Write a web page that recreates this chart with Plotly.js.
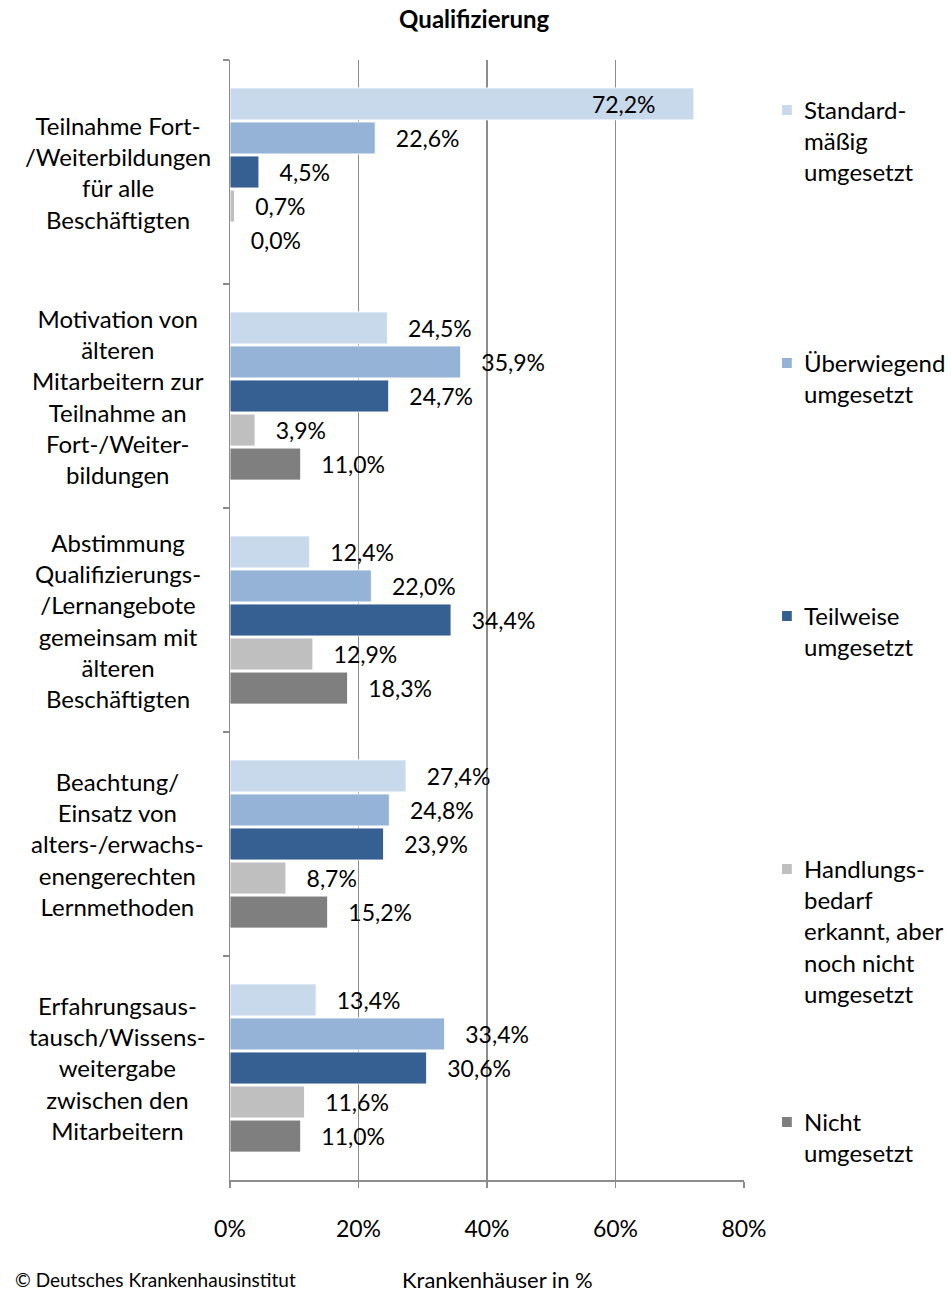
<!DOCTYPE html>
<html>
<head>
<meta charset="utf-8">
<script src="https://cdn.plot.ly/plotly-3.0.1.min.js"></script>
<style>html,body{margin:0;padding:0;background:#fff;}#chart{width:951px;height:1293px;}</style>
</head>
<body>
<div id="chart"></div>
<script>
// ---- data ----
const categories = [
  "Teilnahme Fort-/Weiterbildungen für alle Beschäftigten",
  "Motivation von älteren Mitarbeitern zur Teilnahme an Fort-/Weiterbildungen",
  "Abstimmung Qualifizierungs-/Lernangebote gemeinsam mit älteren Beschäftigten",
  "Beachtung/Einsatz von alters-/erwachsenengerechten Lernmethoden",
  "Erfahrungsaustausch/Wissensweitergabe zwischen den Mitarbeitern"
];
const categoryLabels = [
  "Teilnahme Fort-<br>/Weiterbildungen<br>für alle<br>Beschäftigten",
  "Motivation von<br>älteren<br>Mitarbeitern zur<br>Teilnahme an<br>Fort-/Weiter-<br>bildungen",
  "Abstimmung<br>Qualifizierungs-<br>/Lernangebote<br>gemeinsam mit<br>älteren<br>Beschäftigten",
  "Beachtung/<br>Einsatz von<br>alters-/erwachs-<br>enengerechten<br>Lernmethoden",
  "Erfahrungsaus-<br>tausch/Wissens-<br>weitergabe<br>zwischen den<br>Mitarbeitern"
];
const seriesNames = [
  "Standard-<br>mäßig<br>umgesetzt",
  "Überwiegend<br>umgesetzt",
  "Teilweise<br>umgesetzt",
  "Handlungs-<br>bedarf<br>erkannt, aber<br>noch nicht<br>umgesetzt",
  "Nicht<br>umgesetzt"
];
const standardmaessig = [72.2, 24.5, 12.4, 27.4, 13.4];
const ueberwiegend    = [22.6, 35.9, 22.0, 24.8, 33.4];
const teilweise       = [4.5, 24.7, 34.4, 23.9, 30.6];
const handlungsbedarf = [0.7, 3.9, 12.9, 8.7, 11.6];
const nicht           = [0.0, 11.0, 18.3, 15.2, 11.0];
const xTicks = [0, 20, 40, 60, 80];
const xTickLabels = ["0%", "20%", "40%", "60%", "80%"];

// ---- styles ----
const colors = ["#c9d9ec", "#95b3d7", "#376092", "#bfbfbf", "#7f7f7f"];
const FONT = "Lato, 'Open Sans', sans-serif";
const NB = "\u00a0";
const allSeries = [standardmaessig, ueberwiegend, teilweise, handlungsbedarf, nicht];

function fmt(v) { return v.toFixed(1).replace(".", ",") + "%"; }

const traces = allSeries.map((vals, i) => ({
  type: "bar",
  orientation: "h",
  name: seriesNames[i],
  y: categories,
  x: vals,
  text: vals.map(v => v > 60 ? fmt(v) + NB.repeat(6) : NB.repeat(3) + fmt(v)),
  textposition: vals.map(v => v > 60 ? "inside" : "outside"),
  insidetextanchor: "end",
  constraintext: "none",
  cliponaxis: false,
  textfont: {family: FONT, size: 23, color: "#000"},
  insidetextfont: {family: FONT, size: 23, color: "#000"},
  outsidetextfont: {family: FONT, size: 23, color: "#000"},
  marker: {color: colors[i], line: {color: "rgba(255,255,255,0.9)", width: 1}},
  hoverinfo: "skip",
  showlegend: false
}));

const annotations = [];
// category labels (centred, multi-line)
categories.forEach((c, i) => {
  annotations.push({
    xref: "paper", yref: "y", x: -0.218, y: c,
    xanchor: "center", yanchor: "middle", align: "center",
    text: categoryLabels[i], showarrow: false,
    font: {family: FONT, size: 24, color: "#000"}
  });
});
// legend (manual, evenly spaced)
const shapes = [];
const legendFirstLine = [110, 363, 616, 869, 1122];
function py(p) { return (1180 - p) / 1120; }
seriesNames.forEach((n, i) => {
  const c = legendFirstLine[i];
  shapes.push({
    type: "rect", xref: "paper", yref: "paper",
    x0: 1.074, x1: 1.093, y0: py(c + 5), y1: py(c - 5),
    fillcolor: colors[i], line: {width: 0}
  });
  annotations.push({
    xref: "paper", yref: "paper", x: 1.112, y: py(c - 17),
    xanchor: "left", yanchor: "top", align: "left",
    text: n, showarrow: false,
    font: {family: FONT, size: 24, color: "#000"}
  });
});
annotations.push({
  xref: "paper", yref: "paper", x: 0.521, y: py(1279),
  xanchor: "center", yanchor: "middle",
  text: "Krankenhäuser in %", showarrow: false,
  font: {family: FONT, size: 22, color: "#000"}
});
annotations.push({
  xref: "paper", yref: "paper", x: (13 - 230) / 514, y: py(1279),
  xanchor: "left", yanchor: "middle",
  text: "© Deutsches Krankenhausinstitut", showarrow: false,
  font: {family: FONT, size: 19, color: "#000"}
});

const layout = {
  width: 951, height: 1293,
  margin: {l: 230, r: 207, t: 60, b: 113, pad: 0},
  paper_bgcolor: "#fff", plot_bgcolor: "#fff",
  separators: ", ",
  title: {
    text: "<b>Qualifizierung</b>",
    font: {family: FONT, size: 24, color: "#000"},
    x: 0.475, xref: "paper", xanchor: "center",
    y: 1 - 20 / 1293, yref: "container", yanchor: "middle"
  },
  barmode: "group",
  bargap: 0.24,
  bargroupgap: 0.06,
  xaxis: {
    range: [0, 80], tickmode: "array", tickvals: xTicks, ticktext: xTickLabels,
    showgrid: true, gridcolor: "#8c8c8c", gridwidth: 1.5,
    zeroline: false, showline: true, linecolor: "#8c8c8c", linewidth: 1.5,
    ticks: "outside", ticklen: 6, tickcolor: "#8c8c8c", tickwidth: 1.5,
    ticklabelstandoff: 22,
    tickfont: {family: FONT, size: 23, color: "#000"},
    fixedrange: true
  },
  yaxis: {
    type: "category", autorange: "reversed",
    showline: true, linecolor: "#8c8c8c", linewidth: 1.5,
    ticks: "outside", tickson: "boundaries", ticklen: 6, tickcolor: "#8c8c8c", tickwidth: 1.5,
    showticklabels: false, showgrid: false, zeroline: false,
    fixedrange: true
  },
  annotations: annotations,
  shapes: shapes,
  showlegend: false
};

Plotly.newPlot("chart", traces, layout, {displayModeBar: false, staticPlot: true});
</script>
</body>
</html>
